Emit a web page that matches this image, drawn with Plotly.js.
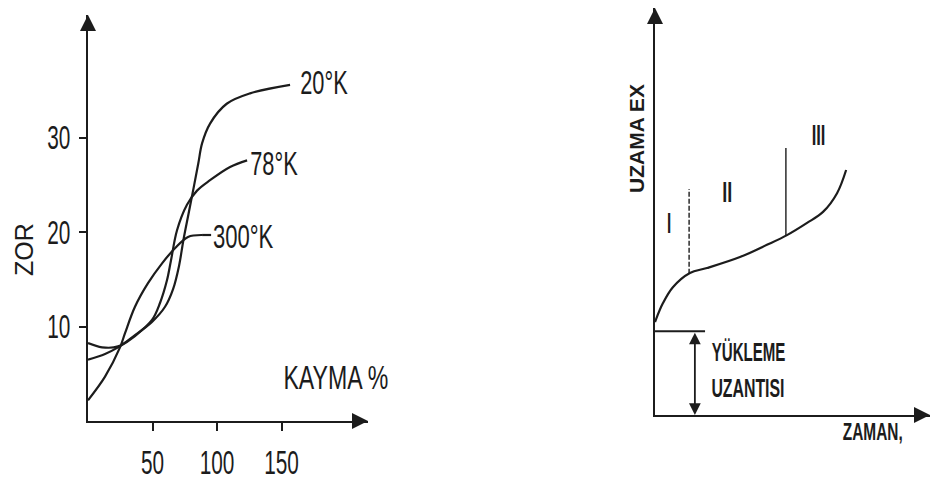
<!DOCTYPE html>
<html><head><meta charset="utf-8">
<script src="https://cdn.plot.ly/plotly-3.0.1.min.js"></script>
<style>html,body{margin:0;padding:0;background:#fff;}</style>
</head><body><div id="chart" style="width:931px;height:484px"></div>
<script>
// ---- Left panel: ZOR vs KAYMA % ----
const kayma20 = [0, 10.9, 23.3, 36.4, 49.6, 59.7, 66, 70.5, 74, 78, 82, 85.5, 88.4, 94.6, 107.5, 125.6, 156.6];
const zor20   = [8.25, 7.8, 7.9, 9.1, 10.5, 12.1, 14.0, 16.4, 19.2, 22.0, 24.8, 27.3, 29.4, 31.5, 33.6, 34.7, 35.6];
const kayma78 = [0, 13.2, 23.3, 36.4, 49.6, 55.8, 61.2, 64.3, 69, 76.7, 84.5, 94.6, 110.1, 123.3];
const zor78   = [6.5, 7.1, 7.8, 9.0, 10.7, 12.5, 14.9, 17.0, 20.2, 22.9, 24.4, 25.5, 26.9, 27.6];
const kayma300 = [0, 13.2, 24.8, 28.7, 36.4, 46.5, 57.4, 67.4, 77.5, 88.4];
const zor300   = [2.2, 4.7, 7.8, 9.3, 12.1, 14.6, 16.7, 18.3, 19.5, 19.7];
const curveLabels = ["20°K", "78°K", "300°K"];
const xTicks = [50, 100, 150];
const yTicks = [10, 20, 30];

// ---- Right panel: creep curve UZAMA vs ZAMAN (arbitrary units) ----
const zaman  = [0, 2.9, 6.5, 12.7, 18.9, 30.9, 40.7, 48.0, 55.3, 61.1, 66.2, 69.5];
const uzama  = [22.85, 27.5, 31.4, 34.9, 36.1, 38.8, 41.8, 44.2, 47.2, 49.9, 54.5, 60.2];
const stageLabels = ["I", "II", "III"];
const stageBounds = [12.4, 47.6];
const loadStrain = 20.6;

const ink = '#1c1c1c';
const sans = '"Liberation Sans", Arial, sans-serif';
const lw = 2.2;

function curve(x, y, xa, ya) {
  return {x: x, y: y, xaxis: xa, yaxis: ya, mode: 'lines', type: 'scatter',
    line: {color: ink, width: lw, shape: 'spline', smoothing: 1}, hoverinfo: 'skip', showlegend: false};
}

const traces = [
  curve(kayma20, zor20, 'x', 'y'),
  curve(kayma78, zor78, 'x', 'y'),
  curve(kayma300, zor300, 'x', 'y'),
  curve(zaman, uzama, 'x2', 'y2'),
];

function yAt(xs, ys, x) {
  for (let i = 1; i < xs.length; i++) {
    if (x <= xs[i]) { const t = (x - xs[i-1]) / (xs[i] - xs[i-1]); return ys[i-1] + t * (ys[i] - ys[i-1]); }
  }
  return ys[ys.length - 1];
}
// stage separators
traces.push({x: [stageBounds[0], stageBounds[0]], y: [yAt(zaman, uzama, stageBounds[0]), 55.5], xaxis: 'x2', yaxis: 'y2',
  mode: 'lines', line: {color: ink, width: 1.4, dash: '5px,2px'}, hoverinfo: 'skip', showlegend: false});
traces.push({x: [stageBounds[1], stageBounds[1]], y: [yAt(zaman, uzama, stageBounds[1]), 65.6], xaxis: 'x2', yaxis: 'y2',
  mode: 'lines', line: {color: ink, width: 1.4}, hoverinfo: 'skip', showlegend: false});
// loading strain level line
traces.push({x: [0, 18.2], y: [loadStrain, loadStrain], xaxis: 'x2', yaxis: 'y2',
  mode: 'lines', line: {color: ink, width: 2}, hoverinfo: 'skip', showlegend: false});
// lead-in line of the 300K label
traces.push({x: [kayma300[kayma300.length-1], kayma300[kayma300.length-1] + 7], y: [zor300[zor300.length-1], zor300[zor300.length-1]],
  xaxis: 'x', yaxis: 'y', mode: 'lines', line: {color: ink, width: lw}, hoverinfo: 'skip', showlegend: false});

const annotations = [];
const squeeze = {}; // text -> horizontal compression (condensed print face)
function label(text, x, y, xref, yref, size, bold, sq, opts) {
  squeeze[text] = sq;
  annotations.push(Object.assign({text: text, x: x, y: y, xref: xref, yref: yref, showarrow: false,
    font: {family: sans, size: size, color: ink, weight: bold ? 'bold' : 'normal'}, xanchor: 'center', yanchor: 'middle'}, opts || {}));
}
// curve labels
label(curveLabels[0], 183.0, 35.9, 'x', 'y', 33, false, 0.66);
label(curveLabels[1], 144.5, 27.3, 'x', 'y', 33, false, 0.66);
label(curveLabels[2], 120.0, 19.5, 'x', 'y', 33, false, 0.67);

const px = (x, y) => [x / 931, (484 - y) / 484];
let p;
p = px(336, 377); label('KAYMA %', p[0], p[1], 'paper', 'paper', 33, false, 0.7);
p = px(24, 250);  label('ZOR', p[0], p[1], 'paper', 'paper', 25, false, 1, {textangle: -90});

// right panel labels
p = px(636, 139); label('UZAMA EX', p[0], p[1], 'paper', 'paper', 21, true, 1.0, {textangle: -90});
p = px(872, 432); label('ZAMAN,', p[0], p[1], 'paper', 'paper', 23, true, 0.67);
p = px(748, 352); label('YÜKLEME', p[0], p[1], 'paper', 'paper', 26, true, 0.58);
p = px(748, 388); label('UZANTISI', p[0], p[1], 'paper', 'paper', 26, true, 0.61);
label(stageLabels[0], 5.1, 47.2, 'x2', 'y2', 30, true, 0.5);
label(stageLabels[1], 26.2, 54.8, 'x2', 'y2', 30, true, 0.6);
label(stageLabels[2], 59.3, 69.0, 'x2', 'y2', 30, true, 0.55);

// axis arrowheads
function arrow(x, y, xref, yref, ax, ay) {
  annotations.push({x: x, y: y, xref: xref, yref: yref, ax: ax, ay: ay, showarrow: true, text: '',
    arrowhead: 2, arrowsize: 1.6, arrowwidth: 2, arrowcolor: ink, standoff: 0, startstandoff: 0});
}
arrow(217, 0, 'x', 'y', -14, 0);
arrow(0, 43, 'x', 'y', 0, 14);
arrow(100, 0, 'x2', 'y2', -14, 0);
arrow(0, 100, 'x2', 'y2', 0, 14);
// loading-strain double arrow
annotations.push({x: 14.5, y: 0, xref: 'x2', yref: 'y2', ax: 14.5, ay: loadStrain, axref: 'x2', ayref: 'y2',
  showarrow: true, text: '', arrowhead: 2, startarrowhead: 2, arrowside: 'end+start', arrowsize: 1.3, startarrowsize: 1.3,
  arrowwidth: 1.8, arrowcolor: ink, standoff: 0, startstandoff: 0});

const axBase = {showgrid: false, zeroline: false, showline: true, linecolor: ink, linewidth: 2, fixedrange: true};

const layout = {
  width: 931, height: 484, margin: {l: 0, r: 0, t: 0, b: 0},
  paper_bgcolor: '#ffffff', plot_bgcolor: 'rgba(0,0,0,0)', showlegend: false,
  xaxis: Object.assign({}, axBase, {domain: [88/931, 368/931], range: [0, 217], anchor: 'y',
    tickmode: 'array', tickvals: xTicks, ticktext: xTicks.map(String), ticks: 'outside', ticklen: 8, tickwidth: 2, tickcolor: ink,
    ticklabelstandoff: 3, tickfont: {family: sans, size: 33, color: ink}}),
  yaxis: Object.assign({}, axBase, {domain: [63/484, 469/484], range: [0, 43], anchor: 'x',
    tickmode: 'array', tickvals: yTicks, ticktext: yTicks.map(String), ticks: 'outside', ticklen: 7, tickwidth: 2, tickcolor: ink,
    ticklabelstandoff: 2, tickfont: {family: sans, size: 33, color: ink}}),
  xaxis2: Object.assign({}, axBase, {domain: [655/931, 930/931], range: [0, 100], anchor: 'y2', showticklabels: false, ticks: ''}),
  yaxis2: Object.assign({}, axBase, {domain: [69/484, 476/484], range: [0, 100], anchor: 'x2', showticklabels: false, ticks: ''}),
  annotations: annotations,
};

Plotly.newPlot('chart', traces, layout, {staticPlot: true, displayModeBar: false}).then(gd => {
  // emulate the condensed print face: squeeze glyphs horizontally, keeping the text anchor
  const condense = (el, f) => {
    if (!(f < 1)) return;
    const w = el.getComputedTextLength();
    if (w > 0) { el.setAttribute('textLength', (w * f).toFixed(2)); el.setAttribute('lengthAdjust', 'spacingAndGlyphs'); }
  };
  gd.querySelectorAll('.xtick text, .ytick text').forEach(t => condense(t, 0.63));
  gd.querySelectorAll('.annotation-text').forEach(t => condense(t, squeeze[t.textContent]));
});
</script>
</body></html>
